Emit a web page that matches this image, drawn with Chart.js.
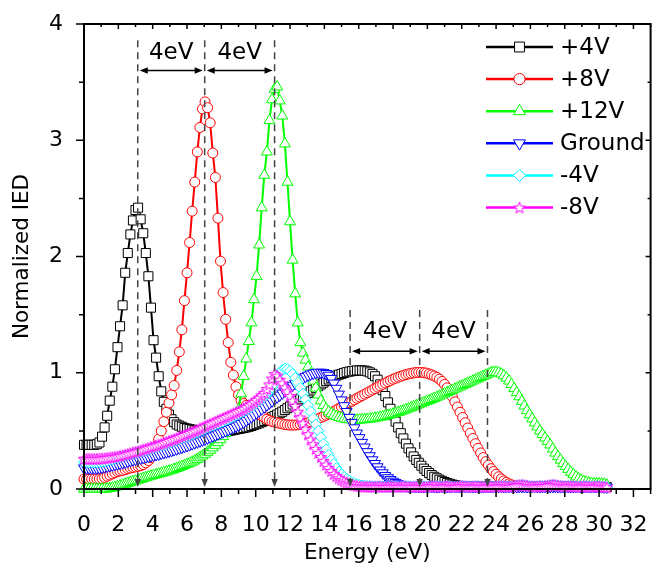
<!DOCTYPE html>
<html>
<head>
<meta charset="utf-8">
<script src="https://cdn.jsdelivr.net/npm/chart.js@4.4.1/dist/chart.umd.min.js"></script>
<style>
  html, body { margin: 0; padding: 0; background: #fff; }
</style>
</head>
<body>
<canvas id="iedChart" width="658" height="564"></canvas>
<script>
// energy grid of the measurement (eV)
var energyStart = 0;
var energyStep = 0.15;

var seriesNames = ['+4V', '+8V', '+12V', 'Ground', '-4V', '-8V'];
var seriesColors = ['#000000', '#ff0000', '#00ff00', '#0000ff', '#00ffff', '#ff00ff'];

// normalized IED, one value per energy step
var iedPlus4 = [
  0.38,0.38,0.38,0.38,0.38,0.385,0.40,0.45,0.53,0.63,
  0.76,0.88,1.03,1.22,1.40,1.58,1.86,2.03,2.19,2.31,
  2.40,2.42,2.32,2.20,2.03,1.83,1.56,1.28,1.13,0.97,
  0.84,0.75,0.69,0.64,0.60,0.575,0.555,0.545,0.535,0.525,
  0.52,0.515,0.51,0.505,0.50,0.495,0.49,0.49,0.487,0.485,
  0.485,0.485,0.487,0.49,0.492,0.495,0.50,0.503,0.507,0.512,
  0.516,0.52,0.525,0.53,0.535,0.542,0.55,0.558,0.566,0.575,
  0.585,0.595,0.605,0.617,0.628,0.64,0.652,0.665,0.68,0.695,
  0.71,0.727,0.744,0.76,0.777,0.793,0.81,0.825,0.84,0.855,
  0.87,0.885,0.90,0.915,0.93,0.942,0.954,0.965,0.975,0.984,
  0.99,0.998,1.005,1.01,1.014,1.017,1.02,1.02,1.02,1.018,
  1.012,1.003,0.99,0.97,0.94,0.90,0.85,0.80,0.745,0.69,
  0.635,0.58,0.53,0.48,0.435,0.39,0.35,0.315,0.28,0.25,
  0.225,0.20,0.175,0.155,0.137,0.12,0.105,0.092,0.08,0.07,
  0.06,0.052,0.045,0.038,0.033,0.028,0.025,0.022,0.02,0.02,
  0.021,0.019,0.02,0.022,0.021,0.019,0.018,0.02,0.021,0.022,
  0.02,0.019,0.021,0.023,0.022,0.02,0.019,0.02,0.022,0.021,
  0.02,0.018,0.019,0.021,0.022,0.02,0.019,0.021,0.02,0.019,
  0.02,0.022,0.021,0.019,0.018,0.02,0.021,0.022,0.02,0.019,
  0.021,0.02,0.019,0.02,0.022,0.021,0.02,0.019,0.02,0.021,
  0.02,0.019,0.018,0.016
];
var iedPlus8 = [
  0.085,0.085,0.085,0.085,0.085,0.085,0.087,0.09,0.10,0.11,
  0.12,0.13,0.14,0.15,0.155,0.16,0.167,0.175,0.18,0.185,
  0.19,0.195,0.20,0.21,0.225,0.245,0.27,0.31,0.36,0.43,
  0.50,0.58,0.66,0.74,0.81,0.89,1.02,1.18,1.37,1.62,
  1.86,2.12,2.39,2.64,2.90,3.11,3.27,3.33,3.28,3.15,
  2.89,2.68,2.33,1.96,1.69,1.46,1.26,1.09,0.98,0.88,
  0.81,0.76,0.735,0.72,0.705,0.69,0.675,0.66,0.645,0.63,
  0.615,0.60,0.59,0.58,0.575,0.57,0.565,0.56,0.555,0.552,
  0.55,0.55,0.55,0.552,0.555,0.56,0.565,0.57,0.578,0.586,
  0.595,0.605,0.615,0.625,0.635,0.645,0.655,0.667,0.68,0.693,
  0.705,0.717,0.73,0.742,0.755,0.767,0.78,0.792,0.804,0.816,
  0.828,0.84,0.852,0.864,0.876,0.888,0.90,0.912,0.923,0.934,
  0.944,0.953,0.962,0.97,0.977,0.984,0.99,0.995,0.999,1.002,
  1.003,1.003,1.0,0.997,0.99,0.982,0.972,0.96,0.945,0.925,
  0.90,0.87,0.835,0.795,0.75,0.705,0.66,0.615,0.57,0.525,
  0.48,0.435,0.39,0.35,0.31,0.27,0.235,0.205,0.175,0.15,
  0.127,0.105,0.087,0.07,0.057,0.045,0.036,0.03,0.025,0.022,
  0.02,0.021,0.019,0.02,0.022,0.021,0.02,0.019,0.02,0.021,
  0.022,0.02,0.019,0.021,0.02,0.019,0.02,0.022,0.021,0.02,
  0.019,0.02,0.021,0.02,0.019,0.018,0.02,0.021,0.02,0.019,
  0.02,0.019,0.017,0.015
];
var iedPlus12 = [
  0,0,0,0,0,0,0,0,0,0.002,
  0.005,0.01,0.015,0.02,0.028,0.035,0.042,0.05,0.057,0.064,
  0.07,0.077,0.084,0.091,0.098,0.105,0.112,0.118,0.124,0.13,
  0.136,0.142,0.148,0.155,0.162,0.17,0.178,0.186,0.195,0.204,
  0.213,0.222,0.232,0.243,0.256,0.27,0.285,0.30,0.317,0.335,
  0.355,0.377,0.40,0.425,0.452,0.48,0.51,0.54,0.575,0.62,
  0.68,0.82,0.97,1.12,1.27,1.43,1.63,1.83,2.10,2.42,
  2.70,2.90,3.17,3.35,3.44,3.46,3.34,3.21,2.97,2.64,
  2.30,1.97,1.68,1.43,1.26,1.17,1.11,1.05,0.99,0.93,
  0.87,0.81,0.76,0.72,0.69,0.665,0.648,0.635,0.625,0.617,
  0.61,0.605,0.60,0.597,0.595,0.594,0.594,0.595,0.596,0.598,
  0.60,0.603,0.606,0.61,0.614,0.618,0.623,0.628,0.634,0.64,
  0.646,0.653,0.66,0.667,0.675,0.683,0.691,0.70,0.708,0.717,
  0.726,0.735,0.744,0.753,0.762,0.771,0.78,0.79,0.80,0.81,
  0.82,0.83,0.84,0.85,0.86,0.87,0.88,0.89,0.90,0.91,
  0.92,0.93,0.94,0.95,0.96,0.97,0.98,0.99,1.0,1.005,
  1.005,1.0,0.99,0.975,0.955,0.93,0.90,0.865,0.83,0.795,
  0.755,0.715,0.675,0.64,0.605,0.57,0.535,0.50,0.47,0.44,
  0.41,0.38,0.345,0.31,0.28,0.25,0.22,0.195,0.17,0.145,
  0.125,0.105,0.09,0.077,0.066,0.058,0.052,0.048,0.046,0.045,
  0.045,0.044,0.042,0.035
];
var iedGround = [
  0.18,0.18,0.18,0.18,0.18,0.18,0.182,0.185,0.19,0.195,
  0.20,0.205,0.21,0.215,0.22,0.225,0.23,0.237,0.244,0.25,
  0.255,0.26,0.265,0.27,0.275,0.28,0.285,0.29,0.295,0.30,
  0.306,0.312,0.318,0.324,0.33,0.337,0.344,0.351,0.358,0.365,
  0.372,0.38,0.388,0.396,0.404,0.412,0.42,0.428,0.437,0.446,
  0.455,0.464,0.473,0.482,0.491,0.50,0.51,0.52,0.53,0.54,
  0.55,0.562,0.575,0.59,0.605,0.62,0.637,0.654,0.671,0.688,
  0.705,0.722,0.739,0.756,0.773,0.79,0.807,0.824,0.841,0.858,
  0.875,0.892,0.908,0.924,0.94,0.954,0.967,0.978,0.988,0.995,
  1.0,1.003,1.003,1.0,0.992,0.978,0.95,0.91,0.865,0.815,
  0.765,0.715,0.665,0.615,0.57,0.525,0.48,0.44,0.40,0.36,
  0.32,0.285,0.25,0.218,0.19,0.162,0.138,0.115,0.096,0.08,
  0.066,0.054,0.044,0.036,0.03,0.026,0.023,0.021,0.02,0.02,
  0.02,0.021,0.019,0.02,0.022,0.021,0.02,0.019,0.02,0.021,
  0.022,0.02,0.019,0.021,0.02,0.019,0.02,0.022,0.021,0.02,
  0.019,0.02,0.021,0.02,0.019,0.018,0.02,0.021,0.02,0.019,
  0.02,0.021,0.022,0.02,0.019,0.02,0.021,0.02,0.019,0.02,
  0.021,0.02,0.019,0.02,0.021,0.022,0.02,0.019,0.02,0.021,
  0.02,0.019,0.02,0.021,0.02,0.019,0.02,0.021,0.02,0.019,
  0.02,0.021,0.02,0.019,0.02,0.021,0.02,0.019,0.02,0.021,
  0.02,0.019,0.017,0.015
];
var iedMinus4 = [
  0.23,0.23,0.23,0.23,0.23,0.23,0.232,0.235,0.24,0.245,
  0.25,0.256,0.262,0.268,0.274,0.28,0.286,0.292,0.298,0.304,
  0.31,0.316,0.322,0.328,0.334,0.34,0.347,0.354,0.361,0.368,
  0.375,0.382,0.39,0.398,0.406,0.414,0.422,0.43,0.438,0.446,
  0.455,0.464,0.473,0.482,0.491,0.50,0.51,0.52,0.53,0.54,
  0.548,0.556,0.564,0.573,0.582,0.592,0.603,0.614,0.625,0.636,
  0.647,0.658,0.67,0.682,0.695,0.709,0.724,0.74,0.757,0.775,
  0.795,0.818,0.845,0.875,0.91,0.955,1.0,1.025,1.035,1.03,
  1.015,0.99,0.955,0.915,0.87,0.82,0.77,0.72,0.665,0.61,
  0.555,0.50,0.445,0.39,0.34,0.295,0.255,0.215,0.18,0.15,
  0.125,0.103,0.085,0.07,0.058,0.048,0.04,0.034,0.03,0.027,
  0.025,0.023,0.022,0.021,0.02,0.021,0.022,0.02,0.019,0.02,
  0.021,0.022,0.02,0.019,0.021,0.023,0.022,0.02,0.019,0.02,
  0.022,0.024,0.022,0.02,0.019,0.021,0.023,0.025,0.022,0.02,
  0.021,0.023,0.022,0.02,0.019,0.02,0.022,0.024,0.022,0.021,
  0.02,0.021,0.023,0.022,0.02,0.019,0.021,0.022,0.021,0.02,
  0.021,0.022,0.024,0.023,0.021,0.02,0.021,0.024,0.028,0.031,
  0.033,0.03,0.026,0.023,0.021,0.02,0.022,0.024,0.023,0.025,
  0.027,0.03,0.033,0.031,0.028,0.025,0.022,0.021,0.023,0.024,
  0.022,0.021,0.02,0.021,0.023,0.022,0.021,0.02,0.021,0.023,
  0.021,0.02,0.018,0.015
];
var iedMinus8 = [
  0.26,0.26,0.26,0.26,0.26,0.26,0.261,0.262,0.265,0.268,
  0.271,0.274,0.277,0.28,0.285,0.29,0.296,0.302,0.308,0.314,
  0.32,0.326,0.333,0.34,0.347,0.354,0.361,0.368,0.375,0.382,
  0.39,0.398,0.406,0.414,0.422,0.43,0.438,0.447,0.456,0.465,
  0.474,0.483,0.492,0.501,0.51,0.52,0.53,0.54,0.55,0.56,
  0.57,0.58,0.59,0.60,0.61,0.62,0.63,0.64,0.65,0.66,
  0.67,0.68,0.692,0.705,0.72,0.735,0.75,0.767,0.785,0.805,
  0.827,0.86,0.90,0.95,0.99,0.975,0.94,0.91,0.875,0.84,
  0.80,0.76,0.715,0.665,0.615,0.565,0.515,0.47,0.425,0.385,
  0.345,0.31,0.275,0.24,0.21,0.18,0.155,0.13,0.11,0.092,
  0.078,0.066,0.055,0.046,0.038,0.032,0.027,0.024,0.022,0.02,
  0.02,0.021,0.019,0.02,0.022,0.021,0.019,0.018,0.02,0.021,
  0.022,0.02,0.019,0.021,0.023,0.022,0.02,0.019,0.02,0.022,
  0.021,0.02,0.018,0.019,0.021,0.024,0.026,0.022,0.02,0.021,
  0.023,0.025,0.022,0.02,0.019,0.021,0.024,0.026,0.023,0.021,
  0.02,0.022,0.024,0.022,0.02,0.019,0.021,0.023,0.022,0.02,
  0.021,0.023,0.025,0.024,0.022,0.02,0.022,0.026,0.03,0.034,
  0.036,0.033,0.028,0.024,0.022,0.021,0.023,0.025,0.024,0.026,
  0.029,0.033,0.036,0.034,0.03,0.026,0.023,0.022,0.024,0.025,
  0.023,0.021,0.02,0.022,0.024,0.023,0.021,0.02,0.022,0.024,
  0.022,0.02,0.018,0.015
];

// axis ranges and tick steps
var xRange = [0, 33];
var yRange = [0, 4];
var xMinorStep = 1, xMajorStep = 2;
var yMinorStep = 0.5, yMajorStep = 1;

// "4eV" guide lines (peak positions) and their arrows
var guideEnergies = [3.13, 7.03, 11.1, 15.5, 19.55, 23.5];
var guideTop = [3.86, 3.86, 3.86, 1.54, 1.54, 1.54];
var spanArrowY = [3.6, 1.185];
var spanLabelY = [3.75, 1.35];
var spanLabel = '4eV';

// a hollow five point star for the -8V symbol
function makeStar(color) {
  var c = document.createElement('canvas');
  c.width = 14; c.height = 14;
  var g = c.getContext('2d');
  g.beginPath();
  for (var k = 0; k < 10; k++) {
    var r = k % 2 === 0 ? 6 : 2.6;
    var a = -Math.PI / 2 + k * Math.PI / 5;
    var px = 7 + r * Math.cos(a), py = 7.6 + r * Math.sin(a);
    if (k === 0) g.moveTo(px, py); else g.lineTo(px, py);
  }
  g.closePath();
  g.fillStyle = '#fff';
  g.fill();
  g.strokeStyle = color;
  g.lineWidth = 1;
  g.stroke();
  return c;
}

var markers = [
  { style: 'rect', radius: 6.4, rotation: 0 },
  { style: 'circle', radius: 5, rotation: 0 },
  { style: 'triangle', radius: 6.3, rotation: 0 },
  { style: 'triangle', radius: 6.3, rotation: 180 },
  { style: 'rectRot', radius: 5.6, rotation: 0 },
  { style: makeStar(seriesColors[5]), radius: 6, rotation: 0 }
];

var allSeries = [iedPlus4, iedPlus8, iedPlus12, iedGround, iedMinus4, iedMinus8];

function toPoints(values) {
  return values.map(function(v, i) {
    return { x: energyStart + i * energyStep, y: v };
  });
}

var datasets = allSeries.map(function(values, i) {
  return {
    label: seriesNames[i],
    data: toPoints(values),
    borderColor: seriesColors[i],
    backgroundColor: seriesColors[i],
    borderWidth: 2,
    tension: 0,
    pointStyle: markers[i].style,
    pointRadius: markers[i].radius,
    pointRotation: markers[i].rotation,
    pointBorderWidth: 1,
    pointBorderColor: seriesColors[i],
    pointBackgroundColor: '#ffffff',
    clip: false,
    order: allSeries.length - i   // later series drawn on top
  };
});

// frame and inner/outer tick marks
var frameTicks = {
  id: 'frameTicks',
  afterDraw: function(chart) {
    var ctx = chart.ctx, a = chart.chartArea;
    var xs = chart.scales.x, ys = chart.scales.y;
    ctx.save();
    ctx.strokeStyle = '#000';
    ctx.lineWidth = 1.5;
    ctx.beginPath();
    xs.ticks.forEach(function(t) {
      var px = xs.getPixelForValue(t.value);
      var major = t.value % xMajorStep === 0;
      ctx.moveTo(px, a.bottom); ctx.lineTo(px, a.bottom + (major ? 8 : 5));
      ctx.moveTo(px, a.top); ctx.lineTo(px, a.top + (major ? 5 : 3));
    });
    ys.ticks.forEach(function(t) {
      var py = ys.getPixelForValue(t.value);
      var major = t.value % yMajorStep === 0;
      ctx.moveTo(a.left, py); ctx.lineTo(a.left - (major ? 8 : 5), py);
      ctx.moveTo(a.right, py); ctx.lineTo(a.right - (major ? 5 : 3), py);
    });
    ctx.stroke();
    ctx.lineWidth = 2;
    ctx.strokeRect(a.left, a.top, a.right - a.left, a.bottom - a.top);
    ctx.restore();
  }
};

function arrowHead(ctx, x, y, dx, dy) {
  // filled head with its tip at (x, y) pointing along (dx, dy)
  var len = 8, half = 3.2;
  ctx.beginPath();
  ctx.moveTo(x, y);
  ctx.lineTo(x - dx * len - dy * half, y - dy * len + dx * half);
  ctx.lineTo(x - dx * len + dy * half, y - dy * len - dx * half);
  ctx.closePath();
  ctx.fill();
}

var guides = {
  id: 'guides',
  afterDatasetsDraw: function(chart) {
    var ctx = chart.ctx;
    var xs = chart.scales.x, ys = chart.scales.y;
    ctx.save();
    ctx.strokeStyle = '#444';
    ctx.fillStyle = '#444';
    ctx.lineWidth = 1.5;
    var bottomY = ys.getPixelForValue(yRange[0]) - 2;
    guideEnergies.forEach(function(e, i) {
      var px = xs.getPixelForValue(e);
      ctx.setLineDash([7, 5]);
      ctx.beginPath();
      ctx.moveTo(px, ys.getPixelForValue(guideTop[i]));
      ctx.lineTo(px, bottomY - 6);
      ctx.stroke();
      ctx.setLineDash([]);
      arrowHead(ctx, px, bottomY, 0, 1);
    });
    // double arrows with labels between neighbouring guides
    ctx.strokeStyle = '#000';
    ctx.fillStyle = '#000';
    ctx.font = "23px 'DejaVu Sans'";
    ctx.textAlign = 'center';
    ctx.textBaseline = 'middle';
    for (var g = 0; g < 2; g++) {
      for (var j = 0; j < 2; j++) {
        var x1 = xs.getPixelForValue(guideEnergies[g * 3 + j]) + 2;
        var x2 = xs.getPixelForValue(guideEnergies[g * 3 + j + 1]) - 2;
        var ay = ys.getPixelForValue(spanArrowY[g]);
        ctx.beginPath();
        ctx.moveTo(x1 + 4, ay); ctx.lineTo(x2 - 4, ay);
        ctx.stroke();
        arrowHead(ctx, x1, ay, -1, 0);
        arrowHead(ctx, x2, ay, 1, 0);
        ctx.fillText(spanLabel, (x1 + x2) / 2, ys.getPixelForValue(spanLabelY[g]));
      }
    }
    ctx.restore();
  }
};

// legend box, top right: line with symbol, then name
var legendBox = {
  id: 'legendBox',
  afterDraw: function(chart) {
    var ctx = chart.ctx;
    var x0 = 486, x1 = 553, tx = 560, y0 = 47, dy = 32.1;
    ctx.save();
    ctx.font = "23px 'DejaVu Sans'";
    ctx.textBaseline = 'middle';
    ctx.textAlign = 'left';
    seriesNames.forEach(function(name, i) {
      var y = y0 + i * dy;
      ctx.strokeStyle = seriesColors[i];
      ctx.lineWidth = 2.5;
      ctx.beginPath();
      ctx.moveTo(x0, y); ctx.lineTo(x1, y);
      ctx.stroke();
      ctx.fillStyle = '#fff';
      ctx.lineWidth = 1;
      Chart.helpers.drawPoint(ctx, {
        pointStyle: markers[i].style,
        radius: markers[i].radius + 0.6,
        rotation: markers[i].rotation,
        borderWidth: 1
      }, (x0 + x1) / 2, y);
      ctx.fillStyle = '#000';
      ctx.fillText(name, tx, y + 1);
    });
    ctx.restore();
  }
};

Chart.defaults.font.family = "'DejaVu Sans', sans-serif";
Chart.defaults.color = '#000';

var ctx = document.getElementById('iedChart').getContext('2d');
var iedChart = new Chart(ctx, {
  type: 'line',
  data: { datasets: datasets },
  options: {
    responsive: false,
    animation: false,
    events: [],
    devicePixelRatio: 1,
    layout: { padding: { top: 24, right: 2, left: 0, bottom: 0 } },
    plugins: { legend: { display: false }, tooltip: { enabled: false } },
    scales: {
      x: {
        type: 'linear',
        min: xRange[0], max: xRange[1],
        grid: { display: false },
        border: { display: false },
        ticks: {
          stepSize: xMinorStep,
          autoSkip: false,
          maxRotation: 0,
          padding: 15,
          font: { size: 22 },
          callback: function(v) { return v % xMajorStep === 0 ? v : ''; }
        },
        title: { display: true, text: 'Energy (eV)', font: { size: 21.5, lineHeight: 1.0 }, padding: 0 },
        afterFit: function(s) { s.height = 75; s.paddingLeft = 0; s.paddingRight = 0; }
      },
      y: {
        min: yRange[0], max: yRange[1],
        grid: { display: false },
        border: { display: false },
        ticks: {
          stepSize: yMinorStep,
          autoSkip: false,
          padding: 13,
          font: { size: 22 },
          callback: function(v) { return v % yMajorStep === 0 ? v : ''; }
        },
        title: { display: true, text: 'Normalized IED', font: { size: 21.5 }, padding: { top: 10, bottom: 0 } },
        afterFit: function(s) { s.width = 84; s.paddingTop = 0; s.paddingBottom = 0; }
      }
    }
  },
  plugins: [guides, frameTicks, legendBox]
});
</script>
</body>
</html>
